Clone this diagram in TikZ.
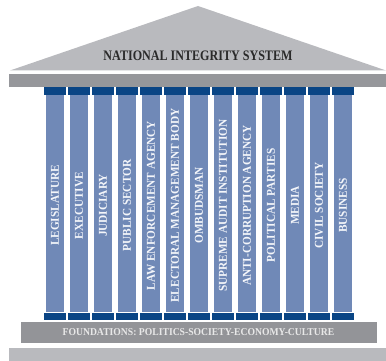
\documentclass[tikz,border=0pt]{standalone}
\usepackage{fontspec}
\setmainfont{Liberation Serif}
\definecolor{roofgray}{HTML}{B9BABE}
\definecolor{beamgray}{HTML}{96979B}
\definecolor{capblue}{HTML}{0A4585}
\definecolor{shaftblue}{HTML}{7089B7}
\definecolor{foundgray}{HTML}{939498}
\definecolor{titletext}{HTML}{2A2A2A}
\definecolor{coltext}{HTML}{F4F6FA}
\definecolor{foundtext}{HTML}{E8E8E8}
\tikzset{
  titlelabel/.style={inner sep=0pt, text=titletext, font=\fontsize{14.5}{16}\selectfont\bfseries},
  collabel/.style={inner sep=0pt, rotate=90, text=coltext, font=\fontsize{12}{13}\selectfont\bfseries},
  foundlabel/.style={inner sep=0pt, text=foundtext, font=\fontsize{10.5}{12}\selectfont\bfseries},
}
\begin{document}
\begin{tikzpicture}[x=1pt,y=-1pt]
\useasboundingbox (0,0) rectangle (386,361);
% roof
\fill[roofgray] (10,70.5) -- (198,6) -- (386,70.5) -- cycle;
\node[titlelabel] (title) at (198,55.5) {\scalebox{0.833}[1]{NATIONAL INTEGRITY SYSTEM}};
% entablature
\fill[beamgray] (9,74) rectangle (386,86.8);
% columns
\foreach \i/\t in {0/LEGISLATURE,1/EXECUTIVE,2/JUDICIARY,3/PUBLIC SECTOR,4/LAW ENFORCEMENT AGENCY,5/ELECTORAL MANAGEMENT BODY,6/OMBUDSMAN,7/SUPREME AUDIT INSTITUTION,8/ANTI-CORRUPTION AGENCY,9/POLITICAL PARTIES,10/MEDIA,11/CIVIL SOCIETY,12/BUSINESS}{
  \pgfmathsetmacro\cx{55+24*\i}
  \fill[capblue] (\cx-11,86.8) rectangle (\cx+11,94.6);
  \fill[shaftblue] (\cx-9.2,94.6) rectangle (\cx+9.2,311.8);
  \fill[capblue] (\cx-11,312.6) rectangle (\cx+11,320);
  \node[collabel] (lab\i) at (\cx,205.5) {\scalebox{0.94}[1]{\t}};
}
% foundations
\fill[foundgray] (21,321.7) rectangle (377,342.7);
\node[foundlabel] (found) at (198.5,332.4) {\scalebox{0.92}[1]{FOUNDATIONS: POLITICS-SOCIETY-ECONOMY-CULTURE}};
% ground step
\fill[roofgray] (9,348.2) rectangle (386,361);
\end{tikzpicture}
\end{document}
